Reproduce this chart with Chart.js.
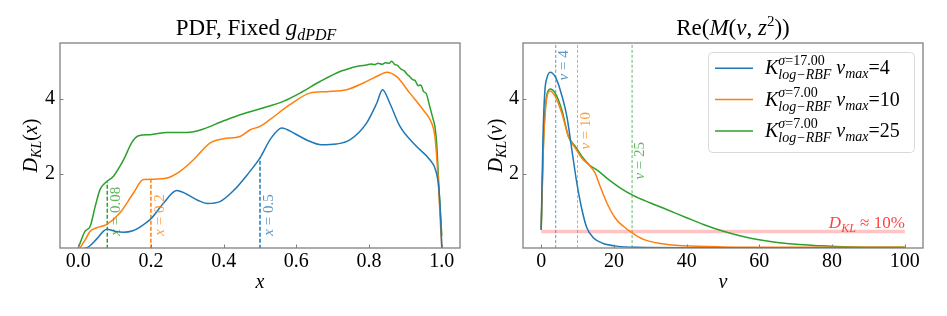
<!DOCTYPE html>
<html lang="en">
<head>
<meta charset="UTF-8">
<title>D_KL panels</title>
<script src="https://cdn.jsdelivr.net/npm/chart.js@4.4.1/dist/chart.umd.min.js"></script>
<style>
  body { margin: 0; background: #fff; }
  .wrap { position: relative; width: 947px; height: 316px; }
  #cL { position: absolute; left: 0; top: 0; }
  #cR { position: absolute; left: 470px; top: 0; }
</style>
</head>
<body>
<div class="wrap">
  <canvas id="cL" width="470" height="316"></canvas>
  <canvas id="cR" width="477" height="316"></canvas>
</div>
<script>
// ---- left panel: D_KL(x) ----
const xTicksL = [0.0, 0.2, 0.4, 0.6, 0.8, 1.0];
const yTicks = [2, 4];

const blueXL = [0.015,0.03,0.05,0.079,0.10,0.125,0.15,0.17,0.20,0.235,0.271,0.30,0.33,0.355,0.39,0.43,0.465,0.5,0.53,0.56,0.595,0.63,0.669,0.71,0.747,0.793,0.821,0.837,0.857,0.885,0.93,0.967,0.983,0.992,0.997,1.0];
const blueYL = [0.0,0.06,0.25,0.52,0.47,0.44,0.48,0.58,0.80,1.22,1.56,1.45,1.29,1.21,1.26,1.58,1.98,2.43,2.95,3.23,3.08,2.90,2.78,2.80,2.91,3.36,3.89,4.25,3.89,3.27,2.74,2.38,2.1,1.6,0.8,0.02];

const orangeXL = [0.005,0.02,0.033,0.051,0.079,0.115,0.152,0.179,0.207,0.244,0.280,0.317,0.363,0.399,0.445,0.473,0.5,0.527,0.582,0.637,0.683,0.738,0.784,0.830,0.848,0.876,0.912,0.949,0.972,0.981,0.990,0.996,1.0];
const orangeYL = [0.02,0.25,0.47,0.56,0.65,0.96,1.49,1.85,1.86,1.89,2.07,2.38,2.83,2.94,3.0,3.18,3.27,3.45,3.85,4.16,4.20,4.25,4.43,4.65,4.72,4.60,4.16,3.71,3.36,3.0,1.85,0.7,0.02];

const greenXL = [0.0,0.019,0.033,0.047,0.060,0.074,0.097,0.125,0.147,0.166,0.198,0.244,0.299,0.344,0.390,0.436,0.5,0.564,0.610,0.665,0.720,0.740,0.756,0.775,0.793,0.805,0.815,0.825,0.835,0.845,0.855,0.862,0.870,0.878,0.888,0.896,0.905,0.912,0.920,0.927,0.935,0.942,0.950,0.957,0.967,0.975,0.981,0.986,0.990,0.995,1.0];
const greenYL = [0.02,0.47,0.60,1.14,1.58,1.76,1.94,2.38,2.83,3.02,3.05,3.11,3.11,3.20,3.38,3.55,3.74,3.94,4.16,4.47,4.74,4.80,4.85,4.89,4.91,4.94,4.92,4.96,4.93,4.97,4.96,5.01,4.93,4.90,4.80,4.76,4.66,4.60,4.52,4.49,4.36,4.38,4.20,4.15,3.80,3.50,3.27,2.8,2.03,1.1,0.35];

// marker lines (x, height reached) and their labels
const markX = [0.08, 0.2, 0.5];
const markTop = [1.80, 1.86, 2.43];
const markText = ['0.08', '0.2', '0.5'];

// ---- right panel: D_KL(nu) ----
const xTicksR = [0, 20, 40, 60, 80, 100];

const blueXR = [0,0.5,1.0,1.56,2.47,3.85,5.22,7.06,8.43,9.8,11.2,12.55,14.4,17.1,20.8,26,40,60,80,100];
const blueYR = [0.51,3.0,4.2,4.56,4.72,4.60,4.25,3.54,2.65,1.76,1.05,0.56,0.29,0.14,0.07,0.04,0.03,0.03,0.03,0.03];

const orangeXR = [0,0.64,1.56,2.47,3.85,5.68,7.5,9.34,11.2,13.0,14.8,16.2,18.05,20.3,22.6,24.9,28.1,32.7,39.1,50,70,100];
const orangeYR = [0.51,2.8,4.05,4.22,4.07,3.62,3.0,2.7,2.42,2.25,2.03,1.67,1.23,0.83,0.60,0.43,0.25,0.14,0.08,0.05,0.04,0.04];

const greenXR = [0,0.64,1.56,2.47,3.85,5.68,7.5,9.34,11.2,13.5,15.3,18.05,21.7,25.4,29.9,34.5,40.0,44.6,50.1,58.3,67.5,76.6,85.8,100];
const greenYR = [0.51,2.91,4.11,4.27,4.16,3.71,3.0,2.74,2.47,2.22,2.11,1.89,1.63,1.42,1.23,1.05,0.83,0.65,0.47,0.27,0.14,0.08,0.05,0.04];

const nuMax = [4, 10, 25];
const sigmas = ['17.00', '7.00', '7.00'];
const kl10 = 0.46;

const colors = ['#1f77b4', '#ff7f0e', '#2ca02c'];
const labelColors = ['rgba(31,119,180,0.75)', 'rgba(255,127,14,0.75)', 'rgba(44,160,44,0.75)'];
const SERIF = '"Liberation Serif", "DejaVu Serif", serif';
const YMIN = 0.02, YMAX = 5.5;

Chart.defaults.font.family = SERIF;

function pts(xs, ys) { return xs.map((x, i) => ({ x: x, y: ys[i] })); }

// small math text helper: runs of parts, optional sub/superscript stacks
function fnt(it, sz) { return (it ? 'italic ' : '') + sz + 'px ' + SERIF; }
function runWidth(ctx, run, base) {
  let w = 0;
  for (const p of run) {
    if (p.stack) w += Math.max(...p.stack.map(r => runWidth(ctx, r, p.sz)));
    else { ctx.font = fnt(p.it, p.sz || base); w += ctx.measureText(p.t).width; }
  }
  return w;
}
function drawRun(ctx, run, x, y, base) {
  for (const p of run) {
    if (p.stack) {
      const ws = p.stack.map((r, i) => { drawRun(ctx, r, x, y + p.dy[i], p.sz); return runWidth(ctx, r, p.sz); });
      x += Math.max(...ws);
    } else {
      ctx.font = fnt(p.it, p.sz || base);
      ctx.fillText(p.t, x, y + (p.dy || 0));
      x += ctx.measureText(p.t).width;
    }
  }
  return x;
}
function drawMath(ctx, run, x, y, o) {
  ctx.save();
  ctx.translate(x, y);
  if (o.rot) ctx.rotate(o.rot);
  ctx.fillStyle = o.color || '#000';
  ctx.textAlign = 'left';
  ctx.textBaseline = 'alphabetic';
  const w = runWidth(ctx, run, o.base);
  const x0 = o.align === 'center' ? -w / 2 : (o.align === 'right' ? -w : 0);
  drawRun(ctx, run, x0, 0, o.base);
  ctx.restore();
}

function frameAndTicks(chart) {
  const { ctx, chartArea: a, scales } = chart;
  ctx.save();
  ctx.strokeStyle = '#808080';
  ctx.lineWidth = 1.3;
  ctx.strokeRect(a.left, a.top, a.right - a.left, a.bottom - a.top);
  ctx.lineWidth = 1;
  ctx.beginPath();
  scales.x.ticks.forEach(t => {
    const px = Math.round(scales.x.getPixelForValue(t.value)) + 0.5;
    ctx.moveTo(px, a.bottom); ctx.lineTo(px, a.bottom - 3.5);
  });
  scales.y.ticks.forEach(t => {
    const py = Math.round(scales.y.getPixelForValue(t.value)) + 0.5;
    ctx.moveTo(a.left, py); ctx.lineTo(a.left + 3.5, py);
  });
  ctx.stroke();
  ctx.restore();
}

function baseOptions(xmin, xmax, xticks, fmt, yWidth, yPad, padRight) {
  return {
    responsive: false,
    animation: false,
    layout: { padding: { top: 43, right: padRight, left: 0, bottom: 0 } },
    plugins: { legend: { display: false }, tooltip: { enabled: false } },
    elements: { point: { radius: 0 }, line: { borderWidth: 1.5, cubicInterpolationMode: 'monotone' } },
    scales: {
      x: {
        type: 'linear', min: xmin, max: xmax,
        grid: { display: false, drawTicks: false }, border: { display: false },
        afterBuildTicks: s => { s.ticks = xticks.map(v => ({ value: v })); },
        afterFit: s => { s.height = 68; },
        ticks: { padding: 2, color: '#000', font: { size: 20 }, maxRotation: 0, autoSkip: false, callback: fmt }
      },
      y: {
        type: 'linear', min: YMIN, max: YMAX,
        grid: { display: false, drawTicks: false }, border: { display: false },
        afterBuildTicks: s => { s.ticks = yTicks.map(v => ({ value: v })); },
        afterFit: s => { s.width = yWidth; },
        ticks: { padding: yPad, color: '#000', font: { size: 20 }, callback: v => String(v) }
      }
    }
  };
}

// ---------- left chart ----------
const leftDatasets = [
  { data: pts(blueXL, blueYL), borderColor: colors[0] },
  { data: pts(orangeXL, orangeYL), borderColor: colors[1] },
  { data: pts(greenXL, greenYL), borderColor: colors[2] }
];
const markOrder = [2, 1, 0]; // 0.08 green, 0.2 orange, 0.5 blue
markX.forEach((mx, i) => {
  leftDatasets.push({
    data: [{ x: mx, y: 0 }, { x: mx, y: markTop[i] }],
    borderColor: colors[markOrder[i]], borderWidth: 1.5, borderDash: [4, 2],
    cubicInterpolationMode: 'default', tension: 0
  });
});

const leftDecor = {
  id: 'leftDecor',
  afterDraw(chart) {
    const { ctx, chartArea: a, scales: { x, y } } = chart;
    frameAndTicks(chart);
    markX.forEach((mx, i) => {
      drawMath(ctx, [{ t: 'x', it: 1 }, { t: ' = ' + markText[i] }],
        x.getPixelForValue(mx) + 13, y.getPixelForValue(0.35),
        { base: 15, rot: -Math.PI / 2, color: labelColors[markOrder[i]] });
    });
    drawMath(ctx, [{ t: 'PDF, Fixed ' }, { t: 'g', it: 1 }, { t: 'dPDF', it: 1, sz: 16, dy: 5 }],
      256, 35, { base: 23, align: 'center' });
    drawMath(ctx, [{ t: 'D', it: 1 }, { t: 'KL', it: 1, sz: 14, dy: 4 }, { t: '(' }, { t: 'x', it: 1 }, { t: ')' }],
      37, (a.top + a.bottom) / 2, { base: 20, align: 'center', rot: -Math.PI / 2 });
    drawMath(ctx, [{ t: 'x', it: 1 }], (a.left + a.right) / 2, 288, { base: 20, align: 'center' });
  }
};

new Chart(document.getElementById('cL'), {
  type: 'line',
  data: { datasets: leftDatasets },
  options: baseOptions(-0.05, 1.05, xTicksL, v => v.toFixed(1), 60, 5, 10),
  plugins: [leftDecor]
});

// ---------- right chart ----------
const rightDatasets = [
  { data: pts(blueXR, blueYR), borderColor: colors[0] },
  { data: pts(orangeXR, orangeYR), borderColor: colors[1] },
  { data: pts(greenXR, greenYR), borderColor: colors[2] },
  { data: [{ x: 0, y: kl10 }, { x: 100, y: kl10 }], borderColor: 'rgba(255,60,60,0.3)', borderWidth: 3.5, tension: 0 }
];
nuMax.forEach((n, i) => {
  rightDatasets.push({
    data: [{ x: n, y: YMIN }, { x: n, y: YMAX }],
    borderColor: labelColors[i], borderWidth: 1, borderDash: [3, 2], tension: 0
  });
});
const nuLabelY = [4.5, 2.65, 1.85];

const rightDecor = {
  id: 'rightDecor',
  afterDraw(chart) {
    const { ctx, chartArea: a, scales: { x, y } } = chart;
    frameAndTicks(chart);
    nuMax.forEach((n, i) => {
      drawMath(ctx, [{ t: 'ν', it: 1 }, { t: ' = ' + n }],
        x.getPixelForValue(n) + 12, y.getPixelForValue(nuLabelY[i]),
        { base: 15, rot: -Math.PI / 2, color: labelColors[i] });
    });
    drawMath(ctx, [{ t: 'D', it: 1 }, { t: 'KL', it: 1, sz: 12, dy: 4 }, { t: ' ≈ 10%' }],
      x.getPixelForValue(100), y.getPixelForValue(kl10) - 4, { base: 17, align: 'right', color: 'rgba(255,30,30,0.85)' });

    // legend
    const lx = 238, ly = 52, lw = 206, lh = 100;
    ctx.save();
    ctx.fillStyle = 'rgba(255,255,255,0.85)';
    ctx.strokeStyle = '#d9d9d9';
    ctx.lineWidth = 1;
    ctx.beginPath();
    ctx.roundRect(lx + 0.5, ly + 0.5, lw, lh, 4);
    ctx.fill(); ctx.stroke();
    ctx.lineWidth = 1.5;
    nuMax.forEach((n, i) => {
      const ry = 68.3 + i * 31.3;
      ctx.strokeStyle = colors[i];
      ctx.beginPath(); ctx.moveTo(245, ry); ctx.lineTo(283, ry); ctx.stroke();
      drawMath(ctx, [
        { t: 'K', it: 1 },
        { stack: [[{ t: 'σ', it: 1 }, { t: '=' + sigmas[i] }], [{ t: 'log−RBF', it: 1 }]], sz: 14, dy: [-9, 5] },
        { t: ' ' }, { t: 'ν', it: 1 }, { t: 'max', it: 1, sz: 14, dy: 4 }, { t: '=' + n }
      ], 295, ry + 6, { base: 20 });
    });
    ctx.restore();

    drawMath(ctx, [{ t: 'Re(' }, { t: 'M', it: 1 }, { t: '(' }, { t: 'ν', it: 1 }, { t: ', ' }, { t: 'z', it: 1 },
      { t: '2', sz: 15, dy: -9 }, { t: '))' }], 263, 35, { base: 23, align: 'center' });
    drawMath(ctx, [{ t: 'D', it: 1 }, { t: 'KL', it: 1, sz: 14, dy: 4 }, { t: '(' }, { t: 'ν', it: 1 }, { t: ')' }],
      32, (a.top + a.bottom) / 2, { base: 20, align: 'center', rot: -Math.PI / 2 });
    drawMath(ctx, [{ t: 'ν', it: 1 }], (a.left + a.right) / 2, 288, { base: 20, align: 'center' });
  }
};

new Chart(document.getElementById('cR'), {
  type: 'line',
  data: { datasets: rightDatasets },
  options: baseOptions(-5, 105, xTicksR, v => String(v), 53, 4, 24),
  plugins: [rightDecor]
});
</script>
</body>
</html>
